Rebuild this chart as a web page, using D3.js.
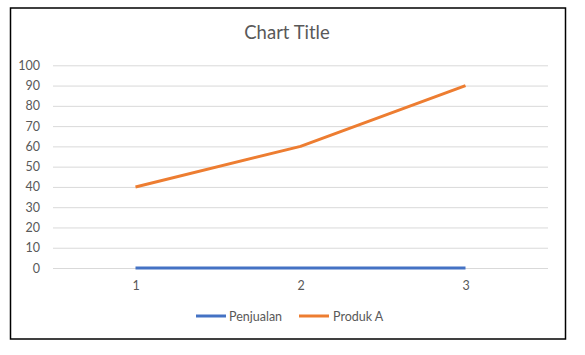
<!DOCTYPE html>
<html>
<head>
<meta charset="utf-8">
<script src="https://cdn.jsdelivr.net/npm/d3@7"></script>
<style>
  body { margin: 0; background: #fff; }
  text { font-family: Lato, "Open Sans", sans-serif; fill: #595959; }
</style>
</head>
<body>
<div id="chart"></div>
<script>
// Data
var categories = ["1", "2", "3"];
var seriesNames = ["Penjualan", "Produk A"];
var penjualan = [0, 0, 0];
var produkA = [40, 60, 90];
var yTicks = [0, 10, 20, 30, 40, 50, 60, 70, 80, 90, 100];
var colors = ["#4472C4", "#ED7D31"];

var width = 585, height = 355;
var plot = {left: 53, right: 548, top: 65.3, bottom: 268};

var svg = d3.select("#chart")
    .append("svg")
    .attr("width", width)
    .attr("height", height);

// Outer chart border
svg.append("rect")
    .attr("x", 10.5)
    .attr("y", 8)
    .attr("width", 555)
    .attr("height", 331)
    .style("fill", "#fff")
    .style("stroke", "#000")
    .style("stroke-width", 1.5);

// Scales
var x = d3.scalePoint()
    .domain(categories)
    .range([plot.left, plot.right])
    .padding(0.5);

var y = d3.scaleLinear()
    .domain([0, 100])
    .range([plot.bottom, plot.top]);

// Title
svg.append("text")
    .attr("x", 287)
    .attr("y", 39)
    .attr("text-anchor", "middle")
    .style("font-size", "18.5px")
    .text("Chart Title");

// Gridlines and y labels
var yAxis = d3.axisLeft(y)
    .tickValues(yTicks)
    .tickSize(-(plot.right - plot.left))
    .tickPadding(13);

svg.append("g")
    .attr("transform", "translate(" + plot.left + ",0)")
    .call(yAxis)
    .call(function (g) {
        g.select(".domain").remove();
        g.selectAll("line").style("stroke", "#D9D9D9").style("stroke-width", 1);
        g.selectAll("text").style("font-size", "12.5px").style("fill", "#595959")
            .style("font-family", "Lato, 'Open Sans', sans-serif");
    });

// Category labels
var xAxis = d3.axisBottom(x).tickSize(0).tickPadding(13);
svg.append("g")
    .attr("transform", "translate(0," + plot.bottom + ")")
    .call(xAxis)
    .call(function (g) {
        g.select(".domain").remove();
        g.selectAll("text").style("font-size", "12.5px").style("fill", "#595959")
            .style("font-family", "Lato, 'Open Sans', sans-serif");
    });

// Lines
var line = d3.line()
    .x(function (d, i) { return x(categories[i]); })
    .y(function (d) { return y(d); });

[penjualan, produkA].forEach(function (s, i) {
    svg.append("path")
        .datum(s)
        .attr("d", line)
        .style("fill", "none")
        .style("stroke", colors[i])
        .style("stroke-width", 3)
        .style("stroke-linejoin", "round");
});

// Legend
var legendItems = [{x: 196, tx: 229}, {x: 299, tx: 333}];
seriesNames.forEach(function (name, i) {
    var g = svg.append("g");
    g.append("line")
        .attr("x1", legendItems[i].x)
        .attr("x2", legendItems[i].x + 30)
        .attr("y1", 316)
        .attr("y2", 316)
        .style("stroke", colors[i])
        .style("stroke-width", 3);
    g.append("text")
        .attr("x", legendItems[i].tx)
        .attr("y", 320.5)
        .style("font-size", "12.5px")
        .text(name);
});
</script>
</body>
</html>
